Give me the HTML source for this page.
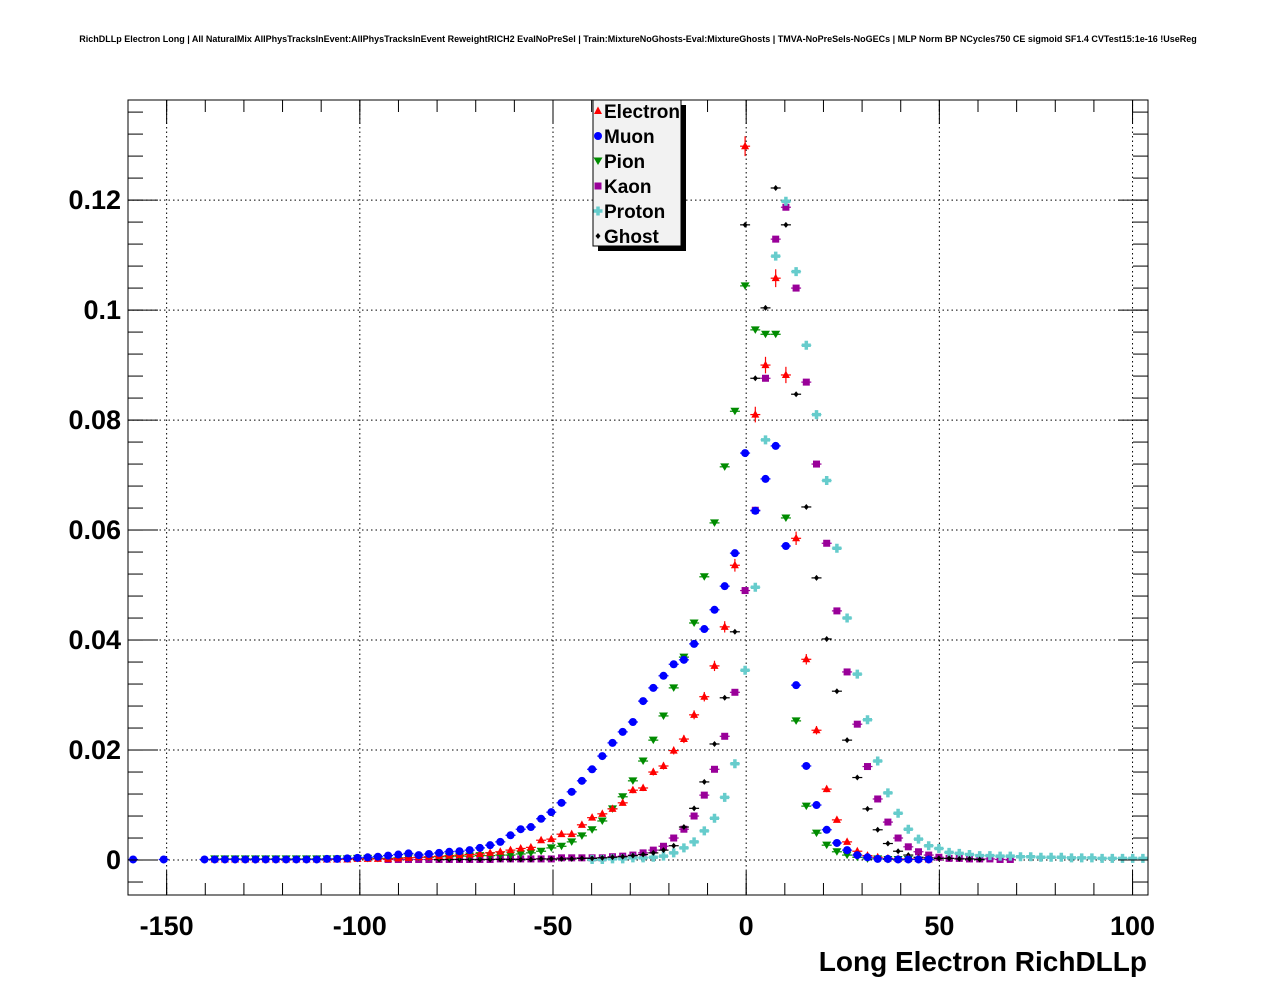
<!DOCTYPE html>
<html><head><meta charset="utf-8">
<style>
html,body{margin:0;padding:0;background:#fff;}
svg{display:block;font-family:"Liberation Sans",Arial,sans-serif;}
</style></head>
<body>
<svg id="chart" width="1276" height="996" viewBox="0 0 1276 996" xmlns="http://www.w3.org/2000/svg">
<rect width="1276" height="996" fill="#fff"/>
<text x="638" y="42" text-anchor="middle" font-size="9.0" font-weight="bold">RichDLLp Electron Long | All NaturalMix AllPhysTracksInEvent:AllPhysTracksInEvent ReweightRICH2 EvalNoPreSel | Train:MixtureNoGhosts-Eval:MixtureGhosts | TMVA-NoPreSels-NoGECs | MLP Norm BP NCycles750 CE sigmoid SF1.4 CVTest15:1e-16 !UseReg</text>
<g id="grid"></g>
<g id="marks"></g>
<rect x="128" y="100" width="1020" height="795" fill="none" stroke="#000" stroke-width="1"/>
<g id="axes"></g>
<text x="1147" y="971" text-anchor="end" font-size="28" font-weight="bold">Long Electron RichDLLp</text>
<g>
<rect x="598" y="105" width="88" height="146" fill="#000"/>
<rect x="593" y="100" width="88" height="146" fill="#f2f2f2" stroke="#000" stroke-width="1"/>
<g id="legend-entries"></g>
</g>
</svg>
<script>
const xTicks=[-150,-100,-50,0,50,100];
const yTicks=[0,0.02,0.04,0.06,0.08,0.1,0.12];
const yTickLabels=["0","0.02","0.04","0.06","0.08","0.1","0.12"];
const seriesNames=["Electron","Muon","Pion","Kaon","Proton","Ghost"];
const xMin=-160, xMax=104, nBins=100;
const electronStart=8;
const electron=[0.0001,0.0001,0.0001,0.0001,0.0001,0.0001,0.0001,0.0001,0.0001,0.0001,0.0001,0.0001,0.0001,0.0001,0.0002,0.0002,0.0002,0.0002,
0.0003,0.0004,0.0005,0.0006,0.0007,0.0008,0.0009,0.001,0.0011,0.0013,
0.0015,0.0018,0.0021,0.0023,0.0036,0.0038,0.0047,0.0047,0.0064,0.0077,0.0084,0.0093,0.0104,0.0127,0.0131,0.016,0.0171,0.0199,0.022,0.0264,0.0297,0.0353,0.0424,0.0536,
0.1298,0.081,0.09,0.1058,0.0882,0.0585,0.0365,0.0236,0.0129,0.0073,0.0033,0.0016,0.0008,0.0005,0.0003,0.0002,0.0002,0.0002,0.0001];
const muonStart=0;
const muon=[0.0001,null,null,0.0001,null,null,null,0.0001,0.0001,0.0001,0.0001,0.0001,0.0001,0.0001,0.0001,0.0001,0.0001,0.0001,0.0001,0.0002,0.0002,
0.0003,0.0004,0.0005,0.0006,0.0008,0.001,0.0012,
0.0009,0.0011,0.0013,0.0015,0.0016,0.0018,0.0022,0.0027,
0.0033,0.0045,0.0056,0.006,0.0075,0.0087,0.0104,0.0124,0.0144,0.0165,0.0189,0.0213,0.0233,0.0251,0.0289,0.0313,0.0335,0.0356,0.0364,0.0393,0.042,0.0455,0.0498,0.0558,
0.074,0.0635,0.0693,0.0753,0.0571,0.0318,0.0171,0.01,0.0055,0.0031,0.0018,0.0009,0.0005,0.0002,0.0002,0.0001,0.0001,0.0001,0.0001];
const pionStart=8;
const pion=[0.0002,0.0002,0.0002,0.0002,0.0002,0.0002,0.0002,0.0002,0.0002,0.0002,0.0002,0.0002,0.0002,0.0002,0.0003,0.0003,0.0003,0.0003,0.0004,0.0004,0.0005,0.0005,0.0006,0.0006,0.0007,0.0007,0.0008,0.0008,
0.0009,0.0009,0.0011,0.0013,0.0016,0.0022,0.0025,0.0033,0.0044,0.0055,0.0071,0.0093,0.0115,0.0144,0.018,0.0218,0.0262,0.0313,0.0369,0.0431,0.0515,0.0613,0.0715,0.0816,
0.1044,0.0964,0.0956,0.0956,0.0622,0.0253,0.0098,0.0049,0.0027,0.0015,0.0009,0.0005,0.0002,0.0002,0.0001,0.0001,0.0001];
const kaonStart=25;
const kaon=[0.0001,0.0001,0.0001,0.0001,0.0001,0.0001,0.0001,0.0001,0.0001,0.0001,0.0001,
0.0002,0.0002,0.0002,0.0002,0.0002,0.0002,0.0004,0.0004,0.0004,0.0004,0.0004,0.0006,0.0007,0.0009,
0.0013,0.0018,0.0025,0.004,0.0056,0.008,0.0118,0.0165,0.0225,0.0305,
0.049,0.0636,0.0876,0.1129,0.1187,0.104,0.0869,0.072,0.0576,0.0453,0.0342,0.0247,0.017,0.0111,0.0069,0.004,0.0024,0.0015,0.0009,0.0005,0.0003,0.0003,0.0002,0.0002,0.0002,0.0001,0.0001];
const protonStart=45;
const proton=[0.0001,0.0001,0.0002,0.0002,0.0004,0.0004,0.0005,0.0007,0.0013,0.0022,0.0033,0.0053,0.0076,0.0114,0.0175,
0.0345,0.0496,0.0764,0.1098,0.1198,0.107,0.0936,0.081,0.069,0.0567,0.044,0.0338,0.0255,0.018,0.0122,0.0085,0.0056,0.0038,0.0026,0.0021,0.0014,0.0012,0.001,
0.0008,0.0008,0.0007,0.0007,0.0006,0.0006,0.0005,0.0005,0.0005,0.0004,0.0004,0.0004,0.0003,0.0003,0.0003,0.0003,0.0003];
const ghostStart=30;
const ghost=[0.0001,0.0001,0.0001,0.0001,0.0001,0.0001,0.0001,0.0001,0.0001,0.0001,0.0002,0.0002,0.0002,0.0002,0.0003,0.0003,0.0004,0.0005,0.0006,0.0008,0.001,0.0013,0.0018,0.0026,
0.006,0.0094,0.0142,0.0211,0.0295,0.0415,
0.1155,0.0876,0.1004,0.1222,0.1155,0.0847,0.0642,0.0513,0.0402,0.0307,0.0218,0.015,0.0093,0.0055,0.003,0.0016,0.0009,0.0005,0.0004,0.0003,0.0003,0.0002,0.0002,0.0001];

const NS="http://www.w3.org/2000/svg";
const X0=128,X1=1148,Y0=100,Y1=895;
const yMin=-0.00636,yMax=0.1382;
function xs(v){return X0+(v-xMin)/(xMax-xMin)*(X1-X0);}
function ys(v){return Y1-(v-yMin)/(yMax-yMin)*(Y1-Y0);}
function binCenter(i){return xMin+(i+0.5)*(xMax-xMin)/nBins;}
function mk(tag,attrs,parent){const e=document.createElementNS(NS,tag);for(const k in attrs)e.setAttribute(k,attrs[k]);parent.appendChild(e);return e;}

const grid=document.getElementById('grid');
const axes=document.getElementById('axes');
xTicks.forEach((t,i)=>{
  const x=xs(t);
  const g=mk('line',{x1:x,x2:x,y1:Y0,y2:Y1,stroke:'#000','stroke-dasharray':'1.5,3','stroke-width':1},grid);
  
  
  const tk=mk('line',{x1:x,x2:x,y1:Y1,y2:Y1-24,stroke:'#000'},axes);
  
  
  mk('line',{x1:x,x2:x,y1:Y0,y2:Y0+24,stroke:'#000'},axes);
  const tx=mk('text',{x:x,y:935,'text-anchor':'middle','font-size':27,'font-weight':'bold'},axes);
  tx.textContent=String(t);
  
  
});
for(let v=-160;v<=104;v+=10){
  const x=xs(v);
  mk('line',{x1:x,x2:x,y1:Y1,y2:Y1-12,stroke:'#000'},axes);
  mk('line',{x1:x,x2:x,y1:Y0,y2:Y0+12,stroke:'#000'},axes);
}
yTicks.forEach((t,i)=>{
  const y=ys(t);
  const g=mk('line',{x1:X0,x2:X1,y1:y,y2:y,stroke:'#000','stroke-dasharray':'1.5,3','stroke-width':1},grid);
  
  
  mk('line',{x1:X0,x2:X0+30,y1:y,y2:y,stroke:'#000'},axes);
  mk('line',{x1:X1,x2:X1-30,y1:y,y2:y,stroke:'#000'},axes);
  const tx=mk('text',{x:121,y:y+9,'text-anchor':'end','font-size':27,'font-weight':'bold'},axes);
  tx.textContent=yTickLabels[i];
  
  
});
for(let v=-0.004;v<=0.138;v+=0.004){
  const y=ys(v);
  mk('line',{x1:X0,x2:X0+15,y1:y,y2:y,stroke:'#000'},axes);
  mk('line',{x1:X1,x2:X1-15,y1:y,y2:y,stroke:'#000'},axes);
}

const colors={Electron:'#ff0000',Muon:'#0000ff',Pion:'#008c00',Kaon:'#990099',Proton:'#66cccc',Ghost:'#000000'};
function marker(name,x,y,parent){
  const c=colors[name];
  if(name==='Electron') return mk('polygon',{points:`${x},${y-4.5} ${x-4},${y+3} ${x+4},${y+3}`,fill:c},parent);
  if(name==='Muon') return mk('circle',{cx:x,cy:y,r:4,fill:c},parent);
  if(name==='Pion') return mk('polygon',{points:`${x-4.5},${y-3.5} ${x+4.5},${y-3.5} ${x},${y+4}`,fill:c},parent);
  if(name==='Kaon') return mk('rect',{x:x-3.5,y:y-3.5,width:7,height:7,fill:c},parent);
  if(name==='Proton') return mk('path',{d:`M${x-4.5},${y}H${x+4.5}M${x},${y-4.5}V${y+4.5}`,stroke:c,'stroke-width':3.5},parent);
  return mk('polygon',{points:`${x},${y-3} ${x+2.5},${y} ${x},${y+3} ${x-2.5},${y}`,fill:c},parent);
}
const marks=document.getElementById('marks');
const allSeries=[["Kaon",kaon,kaonStart],["Proton",proton,protonStart],["Ghost",ghost,ghostStart],["Pion",pion,pionStart],["Electron",electron,electronStart],["Muon",muon,muonStart]];
allSeries.forEach(([name,vals,start])=>{
  const g=mk('g',{},marks);
  
  
  vals.forEach((v,k)=>{
    const i=start+k; if(i>=nBins||v===null) return;
    const x=xs(binCenter(i)), y=ys(v);
    mk('line',{x1:x-5,x2:x+5,y1:y,y2:y,stroke:colors[name],'stroke-width':1.2},g);
    if(name==='Electron'){const e=0.005*Math.sqrt(v);mk('line',{x1:x,x2:x,y1:ys(v+e),y2:ys(v-e),stroke:colors[name],'stroke-width':1.2},g);}
    const m=marker(name,x,y,g);
    
    
  });
});
const le=document.getElementById('legend-entries');
seriesNames.forEach((n,i)=>{
  const y=111+i*25;
  const g=mk('g',{},le);
  
  
  marker(n,598,y,g);
  const t=mk('text',{x:604,y:y+7,'font-size':19,'font-weight':'bold'},g);
  t.textContent=n;
});
</script>
</body></html>
